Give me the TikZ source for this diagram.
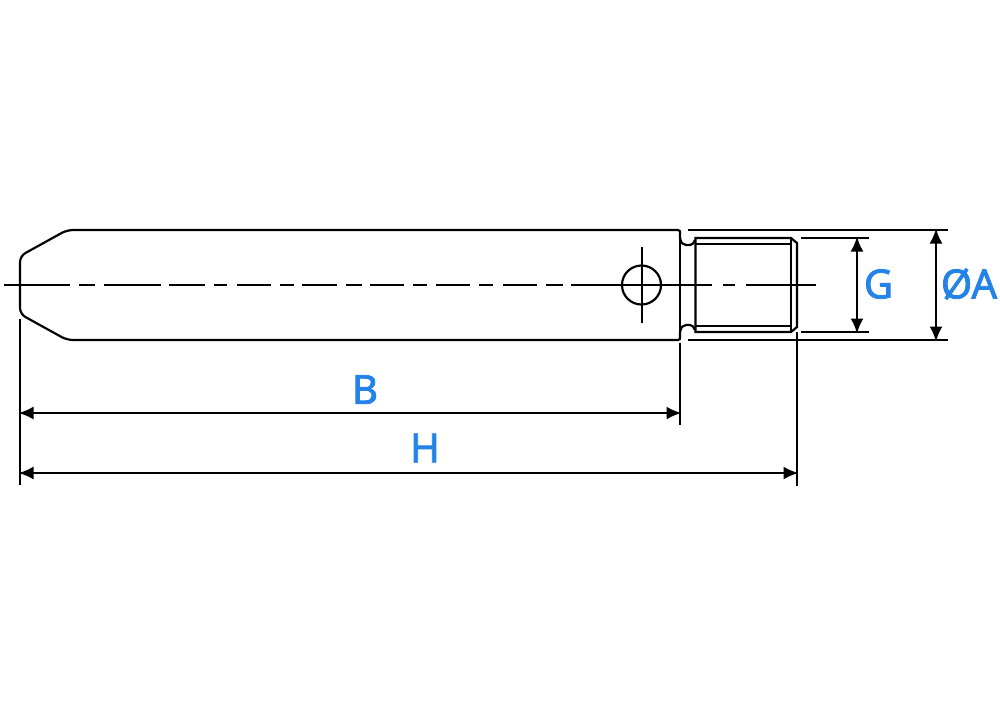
\documentclass[tikz,border=0pt]{standalone}
\usepackage{fontspec}
\setmainfont{Noto Sans}
\newfontfamily\dimfont[FakeBold=2]{Noto Sans}
\usetikzlibrary{arrows.meta}
\definecolor{dimblue}{HTML}{2383E8}
\begin{document}
\begin{tikzpicture}[x=0.01cm, y=-0.01cm]
\tikzstyle{part}=[line width=0.62pt, black]
\tikzstyle{dimline}=[line width=0.62pt, black, shorten >=-0.015cm, shorten <=-0.015cm, {Latex[length=0.15cm, width=0.13cm]}-{Latex[length=0.15cm, width=0.13cm]}]
\tikzstyle{dimtext}=[text=dimblue, font=\dimfont\fontsize{11.4}{12}\selectfont, inner sep=0pt]
\useasboundingbox (0,0) rectangle (1000,714);
% body and nose
\draw[part] (680,238) -- (680,232) .. controls (680,231) .. (678,230) [rounded corners=0.06cm] -- (67,230) -- (20,256) -- (20,314) -- (67,340) [sharp corners] -- (678,340) .. controls (680,339) .. (680,338) -- (680,332);
\draw[part] (680,238) -- (680,332);
% neck
\draw[part] (680,238) .. controls (681,243) and (683,245) .. (686,245) -- (690,245) .. controls (692,245) and (694,243) .. (695,240);
\draw[part] (680,332) .. controls (681,327) and (683,325) .. (686,325) -- (690,325) .. controls (692,325) and (694,327) .. (695,330);
% thread
\draw[part] (695.5,238) -- (791,238) -- (797,243) -- (797,327) -- (791,332) -- (695.5,332) -- cycle;
\draw[part] (695.5,244) -- (791,244);
\draw[part] (695.5,326) -- (791,326);
\draw[part] (791,238) -- (791,332);
% hole and center lines
\node[part, circle, draw, minimum size=0.39cm, inner sep=0pt] (hole) at (641.5,285) {};
\draw[part] (642,247) -- (642,323);
\foreach \xa/\xb in {4/70, 79/95, 104/161, 169/205, 214/227, 237/271, 280/294, 302/337, 346/362, 370/404, 413/427, 436/470, 479/493, 503/537, 546/563, 571/712, 723/735, 746/816}
  \draw[part] (\xa,285) -- (\xb,285);
% extension lines
\draw[part] (688,230) -- (948,230);
\draw[part] (688,340) -- (948,340);
\draw[part] (801,238) -- (869,238);
\draw[part] (801,332) -- (869,332);
\draw[part] (20,319) -- (20,485);
\draw[part] (680,343) -- (680,425);
\draw[part] (797,332) -- (797,486);
% dimensions
\coordinate (b1) at (20,413);
\coordinate (b2) at (680,413);
\coordinate (h1) at (20,473);
\coordinate (h2) at (797,473);
\coordinate (g1) at (857,238);
\coordinate (g2) at (857,332);
\coordinate (a1) at (936,230);
\coordinate (a2) at (936,340);
\draw[dimline] (b1) -- (b2);
\draw[dimline] (h1) -- (h2);
\draw[dimline] (g1) -- (g2);
\draw[dimline] (a1) -- (a2);
\node[dimtext] (lblB) at (365,389.5) {B};
\node[dimtext] (lblH) at (425,448) {H};
\node[dimtext] (lblG) at (878.5,284) {G};
\node[dimtext] (lblA) at (969,284) {ØA};
\end{tikzpicture}
\end{document}
